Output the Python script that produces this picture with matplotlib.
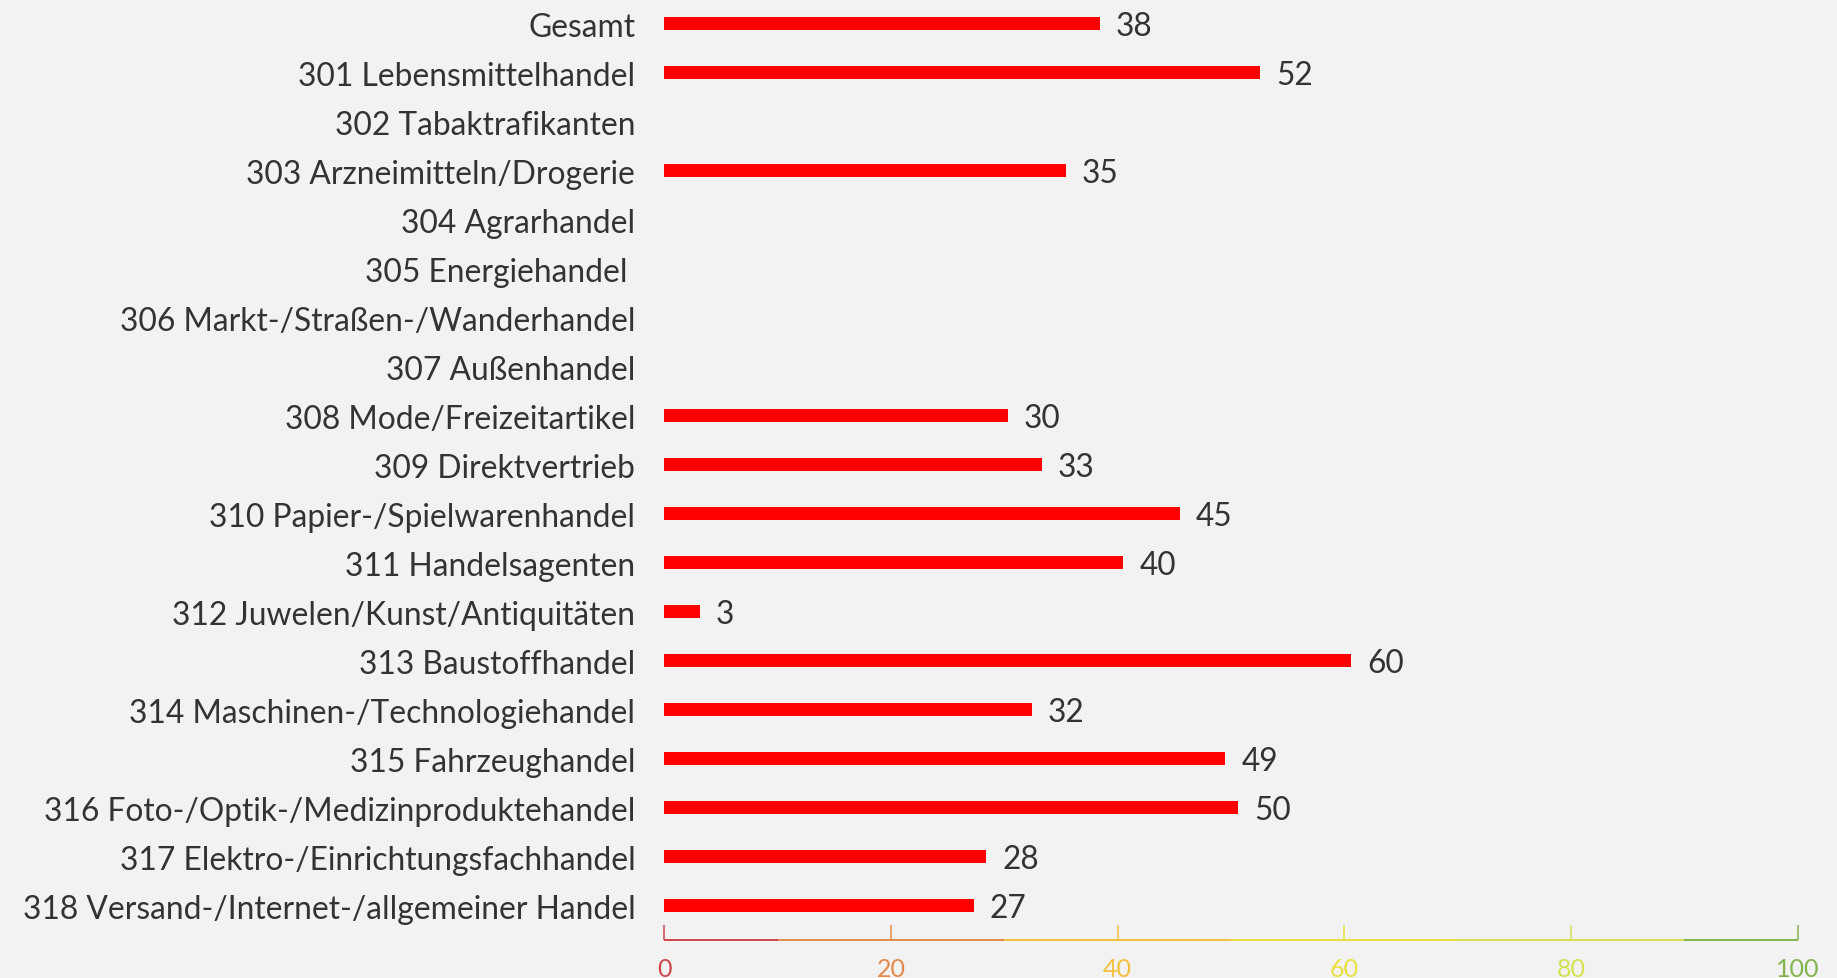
import matplotlib
matplotlib.use("Agg")
import matplotlib.pyplot as plt
import matplotlib.transforms as mtransforms

plt.rcParams['font.family'] = ['Lato', 'DejaVu Sans']

categories = [
    "Gesamt",
    "301 Lebensmittelhandel",
    "302 Tabaktrafikanten",
    "303 Arzneimitteln/Drogerie",
    "304 Agrarhandel",
    "305 Energiehandel ",
    "306 Markt-/Straßen-/Wanderhandel",
    "307 Außenhandel",
    "308 Mode/Freizeitartikel",
    "309 Direktvertrieb",
    "310 Papier-/Spielwarenhandel",
    "311 Handelsagenten",
    "312 Juwelen/Kunst/Antiquitäten",
    "313 Baustoffhandel",
    "314 Maschinen-/Technologiehandel",
    "315 Fahrzeughandel",
    "316 Foto-/Optik-/Medizinproduktehandel",
    "317 Elektro-/Einrichtungsfachhandel",
    "318 Versand-/Internet-/allgemeiner Handel",
]
# None = no value shown
values = [38.4, 52.6, None, 35.4, None, None, None, None, 30.3, 33.3,
          45.5, 40.5, 3.1, 60.6, 32.4, 49.5, 50.6, 28.4, 27.3]

# colour bands of the scale (start, end, colour)
bands = [(0, 10, "#d0474c"), (10, 30, "#e38a4b"), (30, 50, "#f2c03c"),
         (50, 70, "#e9df3e"), (70, 90, "#d5e04f"), (90, 100, "#84b44e")]
tick_values = [0, 20, 40, 60, 80, 100]
tick_colors = ["#d0474c", "#e38a4b", "#f2c03c", "#e9df3e", "#d5e04f", "#84b44e"]

bg = "#f2f2f2"
text_col = "#333333"

fig = plt.figure(figsize=(18.37, 9.79), dpi=100, facecolor=bg)
ax = fig.add_axes([0.3617, 0.0388, 0.6168, 0.9612], facecolor=bg)

ypos = list(range(len(categories)))
for y, v in zip(ypos, values):
    if v is None:
        continue
    ax.barh(y, v, height=0.27, color="#ff0000", edgecolor="none")
    ax.annotate(f"{int(v)}", xy=(v, y), xytext=(16, -2), textcoords="offset pixels",
                va="center", ha="left", fontsize=22.8, color=text_col)

ax.set_xlim(0, 100)
ax.set_ylim(18.7, -0.5)
ax.set_yticks(ypos)
ax.set_yticklabels(categories, fontsize=22.9, color=text_col)
ax.tick_params(axis="y", length=0, pad=21)

for s in ax.spines.values():
    s.set_visible(False)

# coloured x axis line
trans = mtransforms.blended_transform_factory(ax.transData, ax.transAxes)
for x0, x1, c in bands:
    ax.plot([x0, x1], [0, 0], color=c, lw=1.4, transform=trans, clip_on=False,
            solid_capstyle="butt")

ax.set_xticks(tick_values)
ax.set_xticklabels([str(t) for t in tick_values], fontsize=18)
ax.tick_params(axis="x", direction="in", length=10.5, width=1.1, pad=12)
for tick, c in zip(ax.xaxis.get_major_ticks(), tick_colors):
    tick.tick1line.set_markeredgecolor(c)
    tick.label1.set_color(c)

fig.savefig("out.png", dpi=100, facecolor=bg)
